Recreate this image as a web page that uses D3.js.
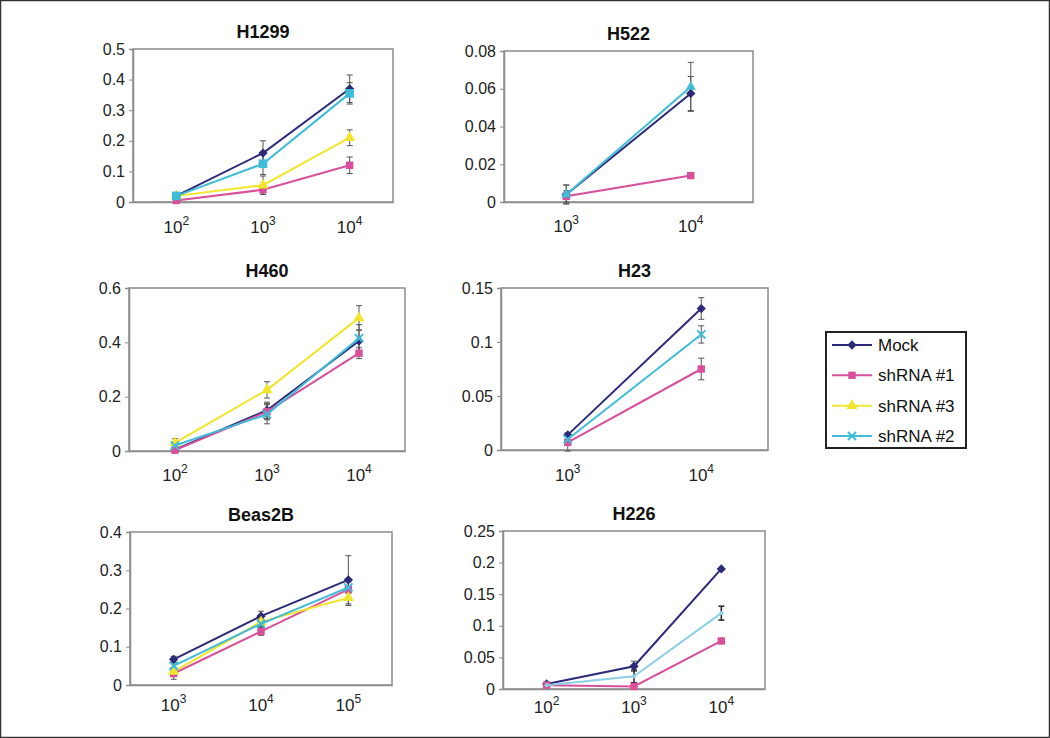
<!DOCTYPE html>
<html>
<head>
<meta charset="utf-8">
<script src="https://cdn.jsdelivr.net/npm/d3@7"></script>
<style>
  html, body { margin: 0; padding: 0; background: #fff; }
  svg { display: block; font-family: Arial, "Liberation Sans", sans-serif; }
</style>
</head>
<body>
<svg id="chart" width="1050" height="738"></svg>
<script>
// ---------------- DATA ----------------
const seriesNames = ["Mock", "shRNA #1", "shRNA #3", "shRNA #2"];

// H1299
const h1299Exps = ["2", "3", "4"];
const h1299Ticks = [0, 0.1, 0.2, 0.3, 0.4, 0.5];
const h1299Mock = [0.02, 0.16, 0.37];
const h1299MockErr = [0.005, 0.04, 0.045];
const h1299Sh1 = [0.005, 0.04, 0.12];
const h1299Sh1Err = [0.004, 0.015, 0.027];
const h1299Sh3 = [0.02, 0.055, 0.21];
const h1299Sh3Err = [0.005, 0.03, 0.026];
const h1299Sh2 = [0.02, 0.125, 0.355];
const h1299Sh2Err = [0.006, 0.035, 0.035];

// H522
const h522Exps = ["3", "4"];
const h522Ticks = [0, 0.02, 0.04, 0.06, 0.08];
const h522Mock = [0.004, 0.0575];
const h522MockErr = [0.005, 0.009];
const h522Sh1 = [0.003, 0.014];
const h522Sh1Err = [0.003, 0.001];
const h522Sh2 = [0.004, 0.061];
const h522Sh2Err = [0.005, 0.013];

// H460
const h460Exps = ["2", "3", "4"];
const h460Ticks = [0, 0.2, 0.4, 0.6];
const h460Mock = [0.005, 0.15, 0.405];
const h460MockErr = [0.01, 0.03, 0.04];
const h460Sh1 = [0.003, 0.145, 0.36];
const h460Sh1Err = [0.005, 0.03, 0.02];
const h460Sh3 = [0.03, 0.225, 0.49];
const h460Sh3Err = [0.015, 0.03, 0.045];
const h460Sh2 = [0.02, 0.135, 0.415];
const h460Sh2Err = [0.01, 0.035, 0.05];

// H23
const h23Exps = ["3", "4"];
const h23Ticks = [0, 0.05, 0.1, 0.15];
const h23Mock = [0.014, 0.131];
const h23MockErr = [0.002, 0.01];
const h23Sh1 = [0.007, 0.075];
const h23Sh1Err = [0.008, 0.01];
const h23Sh2 = [0.01, 0.107];
const h23Sh2Err = [0.003, 0.008];

// Beas2B
const beasExps = ["3", "4", "5"];
const beasTicks = [0, 0.1, 0.2, 0.3, 0.4];
const beasMock = [0.067, 0.18, 0.275];
const beasMockErr = [0.008, 0.013, 0.063];
const beasSh1 = [0.03, 0.14, 0.25];
const beasSh1Err = [0.015, 0.01, 0.02];
const beasSh3 = [0.035, 0.165, 0.228];
const beasSh3Err = [0.01, 0.012, 0.02];
const beasSh2 = [0.05, 0.16, 0.255];
const beasSh2Err = [0.01, 0.012, 0.015];

// H226
const h226Exps = ["2", "3", "4"];
const h226Ticks = [0, 0.05, 0.1, 0.15, 0.2, 0.25];
const h226Mock = [0.008, 0.036, 0.19];
const h226MockErr = [0.002, 0.008, 0];
const h226Sh1 = [0.006, 0.004, 0.076];
const h226Sh1Err = [0, 0, 0];
const h226Sh2 = [0.006, 0.02, 0.12];
const h226Sh2Err = [0.002, 0.01, 0.011];

// ---------------- STYLE / LAYOUT ----------------
const colors = {
  "Mock": "#2c2a78",
  "shRNA #1": "#d9509a",
  "shRNA #3": "#f2e52c",
  "shRNA #2": "#3fbcd8"
};
const markers = {
  "Mock": d3.symbolDiamond2,
  "shRNA #1": d3.symbolSquare,
  "shRNA #3": d3.symbolTriangle,
  "shRNA #2": d3.symbolX
};
const markerSize = { "Mock": 55, "shRNA #1": 55, "shRNA #3": 55, "shRNA #2": 45 };

const panels = [
  { title: "H1299", exps: h1299Exps, ticks: h1299Ticks,
    box: { l: 133, r: 393, t: 49, b: 202 }, lab: 31,
    style: { "shRNA #2": { marker: d3.symbolSquare, size: 75 } },
    series: [["Mock", h1299Mock, h1299MockErr], ["shRNA #1", h1299Sh1, h1299Sh1Err],
             ["shRNA #3", h1299Sh3, h1299Sh3Err], ["shRNA #2", h1299Sh2, h1299Sh2Err]] },
  { title: "H522", exps: h522Exps, ticks: h522Ticks,
    box: { l: 504, r: 753, t: 51, b: 202 }, lab: 30,
    style: { "shRNA #2": { marker: d3.symbolTriangle, size: 45 } },
    series: [["Mock", h522Mock, h522MockErr], ["shRNA #1", h522Sh1, h522Sh1Err],
             ["shRNA #2", h522Sh2, h522Sh2Err]] },
  { title: "H460", exps: h460Exps, ticks: h460Ticks,
    box: { l: 129, r: 405, t: 288, b: 451 }, lab: 30, style: {},
    series: [["Mock", h460Mock, h460MockErr], ["shRNA #1", h460Sh1, h460Sh1Err],
             ["shRNA #3", h460Sh3, h460Sh3Err], ["shRNA #2", h460Sh2, h460Sh2Err]] },
  { title: "H23", exps: h23Exps, ticks: h23Ticks,
    box: { l: 501, r: 768, t: 288, b: 450 }, lab: 31, style: {},
    series: [["Mock", h23Mock, h23MockErr], ["shRNA #1", h23Sh1, h23Sh1Err],
             ["shRNA #2", h23Sh2, h23Sh2Err]] },
  { title: "Beas2B", exps: beasExps, ticks: beasTicks,
    box: { l: 130, r: 392, t: 532, b: 685 }, lab: 26, style: {},
    series: [["Mock", beasMock, beasMockErr], ["shRNA #1", beasSh1, beasSh1Err],
             ["shRNA #3", beasSh3, beasSh3Err], ["shRNA #2", beasSh2, beasSh2Err]] },
  { title: "H226", exps: h226Exps, ticks: h226Ticks,
    box: { l: 503, r: 765, t: 531, b: 689 }, lab: 24,
    style: { "shRNA #2": { color: "#8dd0e4", marker: d3.symbolCircle, size: 14, errColor: "#222" } },
    series: [["Mock", h226Mock, h226MockErr], ["shRNA #1", h226Sh1, h226Sh1Err],
             ["shRNA #2", h226Sh2, h226Sh2Err]] }
];

const svg = d3.select("#chart");

// outer frame
svg.append("rect").attr("x", 0.5).attr("y", 0.5).attr("width", 1049).attr("height", 737)
  .attr("fill", "none").attr("stroke", "#333").attr("stroke-width", 1.5);

const fmt = d3.format("~g");

panels.forEach(p => {
  const g = svg.append("g");
  const x = d3.scaleBand().domain(p.exps).range([p.box.l, p.box.r]);
  const yMax = p.ticks[p.ticks.length - 1];
  const y = d3.scaleLinear().domain([0, yMax]).range([p.box.b, p.box.t]);
  const cx = e => x(e) + x.bandwidth() / 2;

  // plot frame
  g.append("rect").attr("x", p.box.l).attr("y", p.box.t)
    .attr("width", p.box.r - p.box.l).attr("height", p.box.b - p.box.t)
    .attr("fill", "none").attr("stroke", "#8c8c8c").attr("stroke-width", 1.5);

  // y axis
  const ya = g.append("g").attr("transform", `translate(${p.box.l},0)`)
    .call(d3.axisLeft(y).tickValues(p.ticks).tickSize(4).tickPadding(4).tickFormat(fmt));
  ya.select(".domain").attr("stroke", "#8c8c8c").attr("stroke-width", 1.5);
  ya.selectAll(".tick line").attr("stroke", "#8c8c8c");
  ya.selectAll(".tick text").attr("font-size", 16).attr("fill", "#222")
    .attr("font-family", "Arial, 'Liberation Sans', sans-serif");

  // x labels (10^n)
  const xa = g.append("g").attr("transform", `translate(0,${p.box.b})`)
    .call(d3.axisBottom(x).tickSize(0).tickFormat(""));
  xa.select(".domain").attr("stroke", "#8c8c8c").attr("stroke-width", 1.5);
  p.exps.forEach(e => {
    const t = g.append("text").attr("x", cx(e)).attr("y", p.box.b + p.lab)
      .attr("text-anchor", "middle").attr("font-size", 17).attr("fill", "#222");
    t.append("tspan").text("10");
    t.append("tspan").attr("dy", -8).attr("font-size", 12).text(e);
  });

  // title
  g.append("text").attr("x", (p.box.l + p.box.r) / 2).attr("y", p.box.t - 11)
    .attr("text-anchor", "middle").attr("font-size", 18).attr("font-weight", "bold")
    .attr("fill", "#111").text(p.title);

  const line = d3.line().x((d, i) => cx(p.exps[i])).y(d => y(d));
  const st = name => Object.assign(
    { color: colors[name], marker: markers[name], size: markerSize[name], errColor: "#555" },
    p.style[name] || {});

  // error bars
  p.series.forEach(([name, vals, errs]) => {
    const s = st(name);
    vals.forEach((v, i) => {
      const e = errs[i];
      if (!e) return;
      const xx = cx(p.exps[i]);
      const eg = g.append("g").attr("stroke", s.errColor).attr("stroke-width", s.errColor === "#222" ? 1.5 : 1);
      eg.append("line").attr("x1", xx).attr("x2", xx).attr("y1", y(v - e)).attr("y2", y(v + e));
      eg.append("line").attr("x1", xx - 3).attr("x2", xx + 3).attr("y1", y(v - e)).attr("y2", y(v - e));
      eg.append("line").attr("x1", xx - 3).attr("x2", xx + 3).attr("y1", y(v + e)).attr("y2", y(v + e));
    });
  });

  // lines + markers
  p.series.forEach(([name, vals]) => {
    const s = st(name);
    g.append("path").datum(vals).attr("d", line).attr("fill", "none")
      .attr("stroke", s.color).attr("stroke-width", 2);
    vals.forEach((v, i) => {
      const sym = d3.symbol().type(s.marker).size(s.size);
      const m = g.append("path").attr("d", sym())
        .attr("transform", `translate(${cx(p.exps[i])},${y(v)})`);
      if (s.marker === d3.symbolX) m.attr("fill", "none").attr("stroke", s.color).attr("stroke-width", 2);
      else m.attr("fill", s.color);
    });
  });
});

// legend
const lg = svg.append("g");
lg.append("rect").attr("x", 826).attr("y", 332).attr("width", 140).attr("height", 116)
  .attr("fill", "#fff").attr("stroke", "#222").attr("stroke-width", 2);
const legendY = d3.scalePoint().domain(seriesNames).range([345, 436]);
seriesNames.forEach(name => {
  const yy = legendY(name);
  lg.append("line").attr("x1", 832).attr("x2", 872).attr("y1", yy).attr("y2", yy)
    .attr("stroke", colors[name]).attr("stroke-width", 2);
  const m = lg.append("path").attr("d", d3.symbol().type(markers[name]).size(markerSize[name])())
    .attr("transform", `translate(852,${yy})`);
  if (name === "shRNA #2") m.attr("fill", "none").attr("stroke", colors[name]).attr("stroke-width", 2);
  else m.attr("fill", colors[name]);
  lg.append("text").attr("x", 878).attr("y", yy + 6).attr("font-size", 17).attr("fill", "#111").text(name);
});
</script>
</body>
</html>
